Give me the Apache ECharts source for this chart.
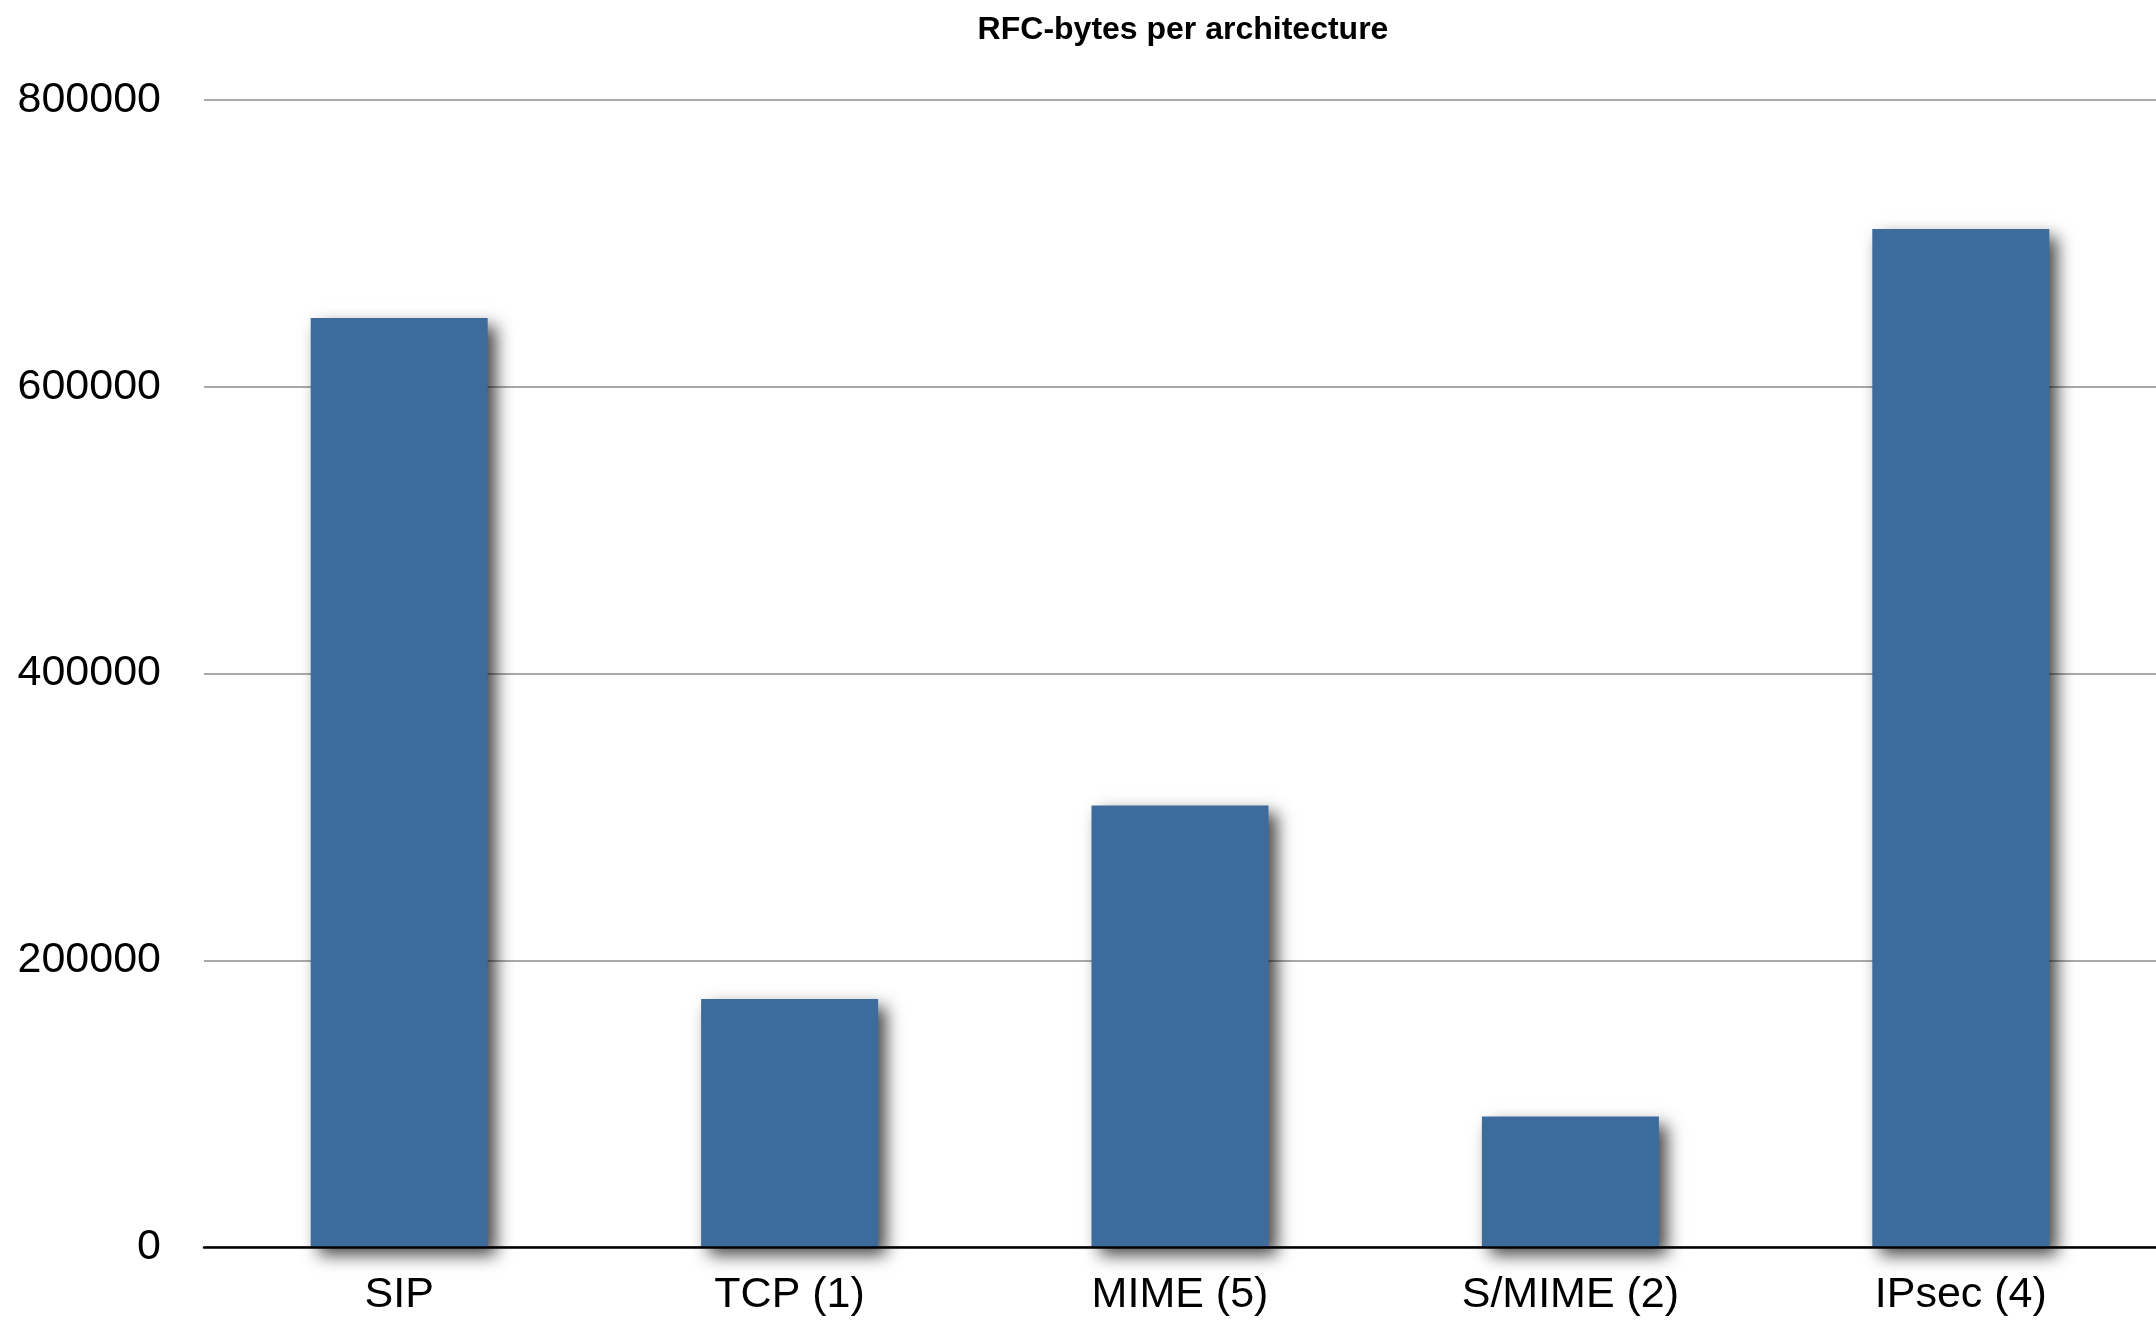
<!DOCTYPE html>
<html>
<head>
<meta charset="utf-8">
<title>RFC-bytes per architecture</title>
<script src="https://cdn.jsdelivr.net/npm/echarts@6/dist/echarts.min.js"></script>
<style>
  html, body { margin: 0; padding: 0; background: #ffffff; }
  #chart { width: 2156px; height: 1323px; }
</style>
</head>
<body>
<div id="chart"></div>
<script>
// Architectures and the RFC byte totals behind each one
const categories = ['SIP', 'TCP (1)', 'MIME (5)', 'S/MIME (2)', 'IPsec (4)'];
const rfcBytes = [648000, 173000, 308000, 91000, 710000];
const yTicks = [0, 200000, 400000, 600000, 800000];

const FONT = '"Liberation Sans", Arial, Helvetica, sans-serif';
const chart = echarts.init(document.getElementById('chart'));

chart.setOption({
  backgroundColor: '#ffffff',
  animation: false,
  title: {
    text: 'RFC-bytes per architecture',
    left: 1178,
    top: 9,
    textAlign: 'center',
    textStyle: { fontFamily: FONT, fontSize: 32, fontWeight: 'bold', color: '#000000' }
  },
  grid: { left: 204, right: -12, top: 100, bottom: 76, containLabel: false },
  xAxis: {
    type: 'category',
    data: categories,
    z: 5,
    axisLine: { lineStyle: { color: '#000000', width: 2.5 } },
    axisTick: { show: false },
    axisLabel: { fontFamily: FONT, fontSize: 43, color: '#000000', margin: 27 }
  },
  yAxis: {
    type: 'value',
    min: yTicks[0],
    max: yTicks[yTicks.length - 1],
    interval: yTicks[1] - yTicks[0],
    axisLine: { show: false },
    axisTick: { show: false },
    splitLine: { lineStyle: { color: '#a9a9a9', width: 2 } },
    axisLabel: {
      fontFamily: FONT, fontSize: 43, color: '#000000', margin: 43,
      formatter: (v) => String(v)
    }
  },
  series: [{
    type: 'bar',
    data: rfcBytes,
    barWidth: 177,
    itemStyle: {
      color: '#3d6b9b',
      shadowColor: 'rgba(0,0,0,0.72)',
      shadowBlur: 16,
      shadowOffsetX: 8,
      shadowOffsetY: 8
    }
  }]
});
</script>
</body>
</html>
